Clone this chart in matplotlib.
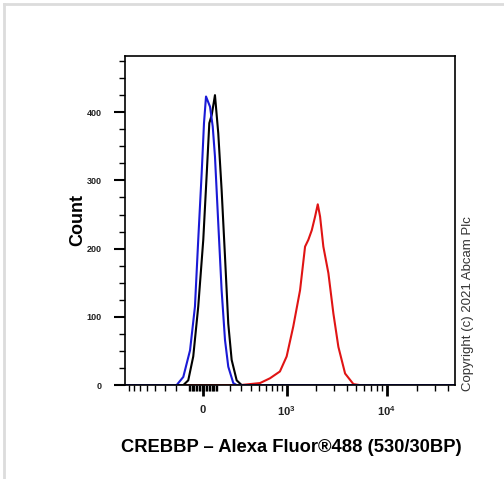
import numpy as np
import matplotlib
matplotlib.use("Agg")
import matplotlib.pyplot as plt
from matplotlib.ticker import FixedLocator
from matplotlib.lines import Line2D

plt.rcParams['font.family'] = ['Liberation Sans', 'DejaVu Sans']
plt.rcParams['mathtext.fontset'] = 'custom'
plt.rcParams['mathtext.rm'] = 'Liberation Sans'
plt.rcParams['mathtext.it'] = 'Liberation Sans'
plt.rcParams['mathtext.bf'] = 'Liberation Sans:bold'

# Данные: интенсивность флуоресценции и число событий
x_min, x_max = -873, 47500

blue_x = [x_min, -194, -141, -91, -56, -33, -9, 7, 21, 49, 68, 84, 108, 133, 159, 185, 227, 257, x_max]
blue_y = [0, 0, 12, 51, 115, 213, 311, 384, 423, 408, 379, 335, 237, 139, 66, 27, 3, 0, 0]

black_x = [x_min, -141, -104, -68, -33, 2, 26, 44, 61, 84, 108, 133, 159, 185, 213, 257, 304, x_max]
black_y = [0, 0, 7, 42, 115, 213, 310, 384, 396, 425, 369, 286, 188, 90, 37, 7, 0, 0]

red_x = [x_min, 288, 516, 666, 851, 1000, 1170, 1371, 1541, 1663, 1800, 1943, 2067,
         2180, 2350, 2639, 2958, 3317, 3867, 4675, 5451, x_max]
red_y = [0, 0, 3, 10, 20, 42, 86, 139, 203, 213, 227, 247, 265,
         247, 203, 164, 105, 56, 17, 1.5, 0, 0]

x_major = [0, 1000, 10000]
x_labels = ['0', r'$\mathbf{10^3}$', r'$\mathbf{10^4}$']
x_minor = ([-800, -700, -600, -500, -400, -300, -200, -100]
           + [-90, -80, -70, -60, -50, -40, -30, -20, -10, 10, 20, 30, 40, 50, 60, 70, 80, 90]
           + [100, 200, 300, 400, 500, 600, 700, 800, 900]
           + [2000, 3000, 4000, 5000, 6000, 7000, 8000, 9000]
           + [20000, 30000, 40000])
y_major = [0, 100, 200, 300, 400]
y_minor = [25, 50, 75, 125, 150, 175, 225, 250, 275, 325, 350, 375, 425, 450, 475]

fig = plt.figure(figsize=(5.04, 4.79), dpi=100)
ax = fig.add_axes([0.248, 0.196, 0.655, 0.688])

ax.plot(red_x, red_y, color='#e01414', lw=1.5)
ax.plot(black_x, black_y, color='black', lw=1.5)
ax.plot(blue_x, blue_y, color='#1a1ad6', lw=1.5)

ax.set_xscale('asinh', linear_width=304)
ax.set_xlim(x_min, x_max)
ax.set_ylim(0, 483)

ax.xaxis.set_major_locator(FixedLocator(x_major))
ax.set_xticklabels(x_labels)
ax.xaxis.set_minor_locator(FixedLocator(x_minor))
ax.yaxis.set_major_locator(FixedLocator(y_major))
ax.yaxis.set_minor_locator(FixedLocator(y_minor))

ax.tick_params(axis='x', which='major', length=8, width=2, labelsize=8, pad=6)
ax.tick_params(axis='x', which='minor', length=4, width=1)
ax.tick_params(axis='y', which='major', length=8, width=1.5, labelsize=6.5, pad=9)
ax.tick_params(axis='y', which='minor', length=4, width=1)
for lab in ax.get_xticklabels() + ax.get_yticklabels():
    lab.set_fontweight('bold')
    lab.set_color('#222222')

for s in ax.spines.values():
    s.set_linewidth(1.2)

ax.set_ylabel('Count', fontsize=13, fontweight='bold', labelpad=0)
fig.text(0.578, 0.065, 'CREBBP \u2013 Alexa Fluor\u00ae488 (530/30BP)',
         ha='center', va='center', fontsize=13.2, fontweight='bold')
fig.text(0.928, 0.367, 'Copyright (c) 2021 Abcam Plc', rotation=90,
         ha='center', va='center', fontsize=9.5, color='#333333')

# светло-серая рамка сверху и слева
fig.add_artist(Line2D([0.008, 1.0], [0.992, 0.992], color='#dcdcdc', lw=2, transform=fig.transFigure))
fig.add_artist(Line2D([0.008, 0.008], [0.0, 0.992], color='#dcdcdc', lw=2, transform=fig.transFigure))

fig.savefig('out.png', dpi=100)
